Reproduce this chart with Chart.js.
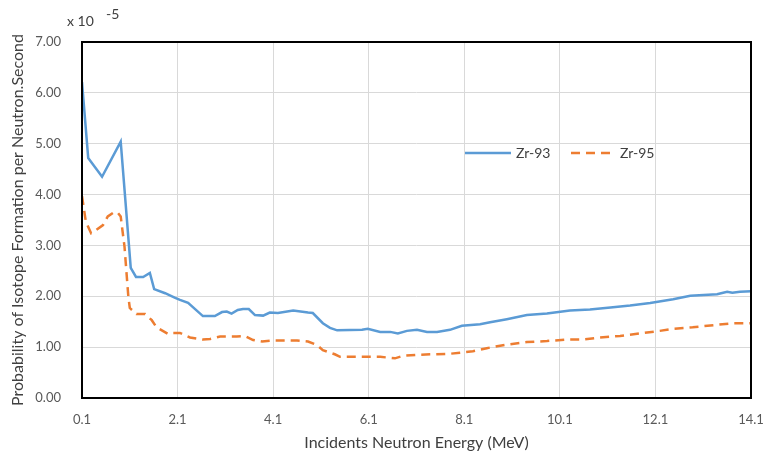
<!DOCTYPE html>
<html>
<head>
<meta charset="utf-8">
<script src="https://cdn.jsdelivr.net/npm/chart.js@4/dist/chart.umd.min.js"></script>
<style>
  html, body { margin: 0; padding: 0; background: #ffffff; }
  #wrap { position: relative; width: 763px; height: 455px; }
</style>
</head>
<body>
<div id="wrap"><canvas id="c" width="763" height="455"></canvas></div>
<script>
// ---- data (values in units of 1e-5) ----
const seriesNames = ["Zr-93", "Zr-95"];
const xTickValues = [0.1, 2.1, 4.1, 6.1, 8.1, 10.1, 12.1, 14.1];
const yTickValues = [0, 1, 2, 3, 4, 5, 6, 7];

const energyZr93 = [0.10, 0.23, 0.52, 0.91, 1.12, 1.23, 1.38, 1.52, 1.61, 1.84, 2.05, 2.15, 2.32, 2.63, 2.88, 3.03, 3.13, 3.23, 3.36, 3.47, 3.59, 3.72, 3.89, 4.03, 4.20, 4.52, 4.83, 4.93, 5.14, 5.29, 5.44, 5.96, 6.08, 6.34, 6.55, 6.71, 6.90, 7.11, 7.32, 7.53, 7.80, 8.05, 8.43, 8.64, 8.99, 9.41, 9.83, 10.31, 10.73, 11.16, 11.57, 11.99, 12.47, 12.83, 13.39, 13.60, 13.71, 13.87, 14.10];
const valuesZr93 = [6.21, 4.72, 4.35, 5.04, 2.56, 2.38, 2.38, 2.46, 2.14, 2.06, 1.97, 1.93, 1.87, 1.61, 1.61, 1.69, 1.70, 1.66, 1.73, 1.75, 1.75, 1.63, 1.62, 1.68, 1.67, 1.72, 1.68, 1.67, 1.47, 1.38, 1.33, 1.34, 1.36, 1.30, 1.30, 1.27, 1.32, 1.34, 1.30, 1.30, 1.34, 1.42, 1.45, 1.49, 1.55, 1.63, 1.66, 1.72, 1.74, 1.78, 1.82, 1.87, 1.94, 2.01, 2.04, 2.09, 2.07, 2.09, 2.10];

const energyZr95 = [0.10, 0.18, 0.29, 0.39, 0.54, 0.64, 0.78, 0.85, 0.91, 0.99, 1.07, 1.10, 1.24, 1.42, 1.56, 1.66, 1.90, 2.00, 2.15, 2.36, 2.63, 2.78, 2.99, 3.34, 3.51, 3.68, 3.87, 4.10, 4.60, 4.83, 5.02, 5.14, 5.39, 5.50, 6.34, 6.65, 6.82, 7.11, 7.80, 8.01, 8.28, 8.57, 8.99, 9.41, 9.83, 10.25, 10.56, 10.94, 11.36, 11.78, 12.19, 12.47, 12.88, 13.39, 13.72, 14.10];
const valuesZr95 = [3.97, 3.47, 3.24, 3.30, 3.40, 3.57, 3.66, 3.64, 3.57, 2.97, 1.99, 1.77, 1.65, 1.65, 1.53, 1.39, 1.26, 1.28, 1.28, 1.19, 1.15, 1.16, 1.21, 1.21, 1.22, 1.14, 1.11, 1.13, 1.13, 1.11, 1.04, 0.94, 0.86, 0.81, 0.81, 0.78, 0.83, 0.85, 0.87, 0.89, 0.92, 0.98, 1.05, 1.10, 1.12, 1.15, 1.15, 1.19, 1.22, 1.27, 1.32, 1.36, 1.39, 1.44, 1.47, 1.47];

const toPoints = (xs, ys) => xs.map((x, i) => ({ x: x, y: ys[i] }));

const FONT = "Lato, 'Liberation Sans', sans-serif";

const framePlugin = {
  id: 'frame',
  afterDatasetsDraw(chart) {
    const { ctx, chartArea: a } = chart;
    ctx.save();
    ctx.strokeStyle = '#000000';
    ctx.lineWidth = 2;
    ctx.strokeRect(a.left, a.top, a.right - a.left, a.bottom - a.top);
    ctx.restore();
  },
  afterDraw(chart) {
    const { ctx } = chart;
    ctx.save();
    // exponent label
    ctx.fillStyle = '#404040';
    ctx.textBaseline = 'middle';
    ctx.textAlign = 'left';
    ctx.font = '14px ' + FONT;
    ctx.fillText('x 10', 67, 21);
    ctx.fillText('-5', 106, 14);
    // legend
    const items = [
      { x0: 465, x1: 511, tx: 516 },
      { x0: 571, x1: 616, tx: 620 }
    ];
    const ly = 153;
    chart.data.datasets.forEach((ds, i) => {
      const it = items[i];
      ctx.beginPath();
      ctx.strokeStyle = ds.borderColor;
      ctx.lineWidth = ds.borderWidth;
      ctx.setLineDash(ds.borderDash || []);
      ctx.moveTo(it.x0, ly);
      ctx.lineTo(it.x1, ly);
      ctx.stroke();
      ctx.setLineDash([]);
      ctx.fillStyle = '#404040';
      ctx.font = '14px ' + FONT;
      ctx.fillText(ds.label, it.tx, ly);
    });
    ctx.restore();
  }
};

new Chart(document.getElementById('c'), {
  type: 'line',
  data: {
    datasets: [
      {
        label: seriesNames[0],
        data: toPoints(energyZr93, valuesZr93),
        borderColor: '#5B9BD5',
        backgroundColor: '#5B9BD5',
        borderWidth: 2.5,
        pointRadius: 0,
        tension: 0,
        fill: false
      },
      {
        label: seriesNames[1],
        data: toPoints(energyZr95, valuesZr95),
        borderColor: '#ED7D31',
        backgroundColor: '#ED7D31',
        borderWidth: 2.5,
        borderDash: [9, 6],
        pointRadius: 0,
        tension: 0,
        fill: false
      }
    ]
  },
  options: {
    responsive: false,
    animation: false,
    layout: { padding: { top: 42, right: 12, left: 0, bottom: 0 } },
    plugins: {
      legend: { display: false },
      tooltip: { enabled: false }
    },
    scales: {
      x: {
        type: 'linear',
        min: 0.1,
        max: 14.1,
        afterBuildTicks: (s) => { s.ticks = xTickValues.map(v => ({ value: v })); },
        afterFit: (s) => { s.height = 57; s.paddingLeft = 0; s.paddingRight = 0; },
        ticks: {
          callback: (v) => Number(v).toFixed(1),
          color: '#595959',
          font: { family: FONT, size: 13 },
          padding: 14,
          maxRotation: 0,
          autoSkip: false
        },
        grid: { color: '#D9D9D9', lineWidth: 1, drawTicks: false },
        border: { display: false },
        title: {
          display: true,
          text: 'Incidents Neutron Energy (MeV)',
          color: '#404040',
          font: { family: FONT, size: 16 },
          padding: { top: 0, bottom: 3 }
        }
      },
      y: {
        min: 0,
        max: 7,
        afterBuildTicks: (s) => { s.ticks = yTickValues.map(v => ({ value: v })); },
        afterFit: (s) => { s.width = 82; },
        ticks: {
          callback: (v) => Number(v).toFixed(2),
          color: '#595959',
          font: { family: FONT, size: 13 },
          padding: 21
        },
        grid: { color: '#D9D9D9', lineWidth: 1, drawTicks: false },
        border: { display: false },
        title: {
          display: true,
          text: 'Probability of Isotope Formation per Neutron.Second',
          color: '#404040',
          font: { family: FONT, size: 16 },
          padding: { top: 8, bottom: 0 }
        }
      }
    }
  },
  plugins: [framePlugin]
});
</script>
</body>
</html>
